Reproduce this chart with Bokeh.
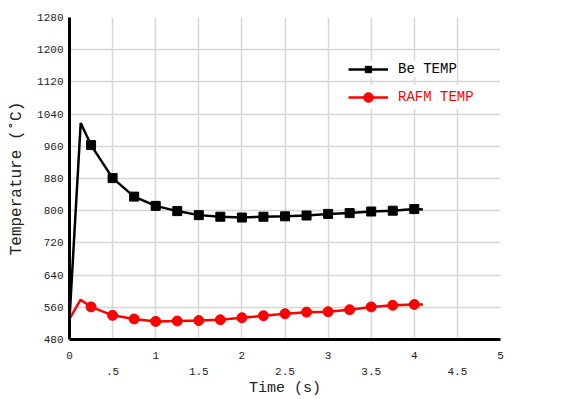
from bokeh.plotting import figure
from bokeh.models import (Range1d, FixedTicker, LinearAxis, Legend, LegendItem, Label)
from bokeh.embed import file_html
from bokeh.resources import INLINE

# Time in units of 1e-2 s, temperatures in deg C
time = [0.0, 0.13, 0.25, 0.5, 0.75, 1.0, 1.25, 1.5, 1.75, 2.0, 2.25, 2.5, 2.75,
        3.0, 3.25, 3.5, 3.75, 4.0, 4.1]
be_temp = [531, 1018, 963, 881, 835, 812, 799, 789, 785, 783, 785, 786, 788,
           792, 794, 798, 800, 804, 803]
rafm_temp = [531, 579, 561, 540, 531, 525, 526, 527, 529, 534, 539, 544, 548,
             549, 554, 561, 565, 567, 567]
# sampled points carrying a marker (every 0.25)
marker_idx = list(range(2, 18))

y_ticks = [480, 560, 640, 720, 800, 880, 960, 1040, 1120, 1200, 1280]
x_major = [0, 1, 2, 3, 4, 5]
x_minor = [0.5, 1.5, 2.5, 3.5, 4.5]
x_minor_labels = [".5", "1.5", "2.5", "3.5", "4.5"]

FONT = "Liberation Mono"
TXT = "#222222"

p = figure(width=582, height=399, output_backend="svg", toolbar_location=None,
           x_range=Range1d(0, 5), y_range=Range1d(480, 1280),
           min_border_left=69, min_border_right=82, min_border_top=17,
           min_border_bottom=59)
p.outline_line_color = None
p.background_fill_color = "white"
p.border_fill_color = "white"

# grid
p.xgrid.ticker = FixedTicker(ticks=sorted(x_major + x_minor))
p.ygrid.ticker = FixedTicker(ticks=y_ticks)
for g in (p.xgrid, p.ygrid):
    g.grid_line_color = "#d6d6d6"
    g.grid_line_width = 1.5

# y axis
ya = p.yaxis[0]
ya.ticker = FixedTicker(ticks=y_ticks)
ya.axis_label = "Temperature (˚C)"
ya.axis_label_text_font = FONT
ya.axis_label_text_font_style = "normal"
ya.axis_label_text_font_size = "16px"
ya.axis_label_text_color = TXT
ya.axis_label_standoff = 8
ya.major_label_text_font = FONT
ya.major_label_text_font_size = "11px"
ya.major_label_text_color = TXT
ya.major_label_standoff = 6
ya.major_tick_in = 0
ya.major_tick_out = 0
ya.minor_tick_in = 0
ya.minor_tick_out = 0
ya.axis_line_width = 3
ya.axis_line_color = "black"

# x axis: integer labels on the first row
xa = p.xaxis[0]
xa.ticker = FixedTicker(ticks=x_major)
xa.major_label_text_font = FONT
xa.major_label_text_font_size = "11px"
xa.major_label_text_color = TXT
xa.major_label_standoff = 12
xa.major_tick_in = 0
xa.major_tick_out = 0
xa.minor_tick_in = 0
xa.minor_tick_out = 0
xa.axis_line_width = 3
xa.axis_line_color = "black"

# second row of x labels at the half steps, with the axis title
xb = LinearAxis(ticker=FixedTicker(ticks=x_minor),
                major_label_overrides={t: s for t, s in zip(x_minor, x_minor_labels)})
xb.axis_line_color = None
xb.major_tick_in = 0
xb.major_tick_out = 0
xb.minor_tick_in = 0
xb.minor_tick_out = 0
xb.major_label_text_font = FONT
xb.major_label_text_font_size = "11px"
xb.major_label_text_color = TXT
xb.major_label_standoff = 6
xb.axis_label = "Time (s)"
xb.axis_label_text_font = FONT
xb.axis_label_text_font_style = "normal"
xb.axis_label_text_font_size = "15px"
xb.axis_label_text_color = TXT
xb.axis_label_standoff = 2
p.add_layout(xb, "below")

# series
be_x = [time[i] for i in marker_idx]
be_y = [be_temp[i] for i in marker_idx]
rf_y = [rafm_temp[i] for i in marker_idx]

be_line = p.line(time, be_temp, line_color="black", line_width=2.5)
be_mk = p.scatter(be_x, be_y, marker="square", size=9, fill_color="black",
                  line_color="black")
rf_line = p.line(time, rafm_temp, line_color="#ff0000", line_width=2.5)
rf_mk = p.scatter(be_x, rf_y, marker="circle", size=10, fill_color="#ff0000",
                  line_color="#ff0000")

def make_legend(label, renderers, color, loc, glyph_h):
    leg = Legend(items=[LegendItem(label=label, renderers=renderers)],
                 location=loc, orientation="vertical",
                 border_line_color=None, background_fill_color="white",
                 background_fill_alpha=1.0, padding=4, margin=0, spacing=0,
                 glyph_width=40, glyph_height=glyph_h, label_height=glyph_h,
                 label_standoff=10, label_text_font=FONT,
                 label_text_font_size="14px", label_text_color=color)
    return leg

p.add_layout(make_legend("Be TEMP", [be_line, be_mk], "black", (279, 262), 16))
p.add_layout(make_legend("RAFM TEMP", [rf_line, rf_mk], "#ff0000", (279, 230), 24))

# exponent note for the time axis
p.add_layout(Label(x=5, y=480, x_offset=9, y_offset=4, text="(x10**-2)",
                   text_font=FONT, text_font_size="13px", text_color=TXT,
                   text_baseline="bottom"))

open("out.html", "w").write(file_html(p, INLINE))
